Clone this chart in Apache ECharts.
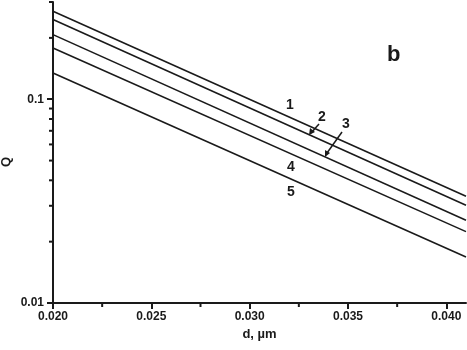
<!DOCTYPE html>
<html>
<head>
<meta charset="utf-8">
<script src="https://cdn.jsdelivr.net/npm/echarts@6/dist/echarts.min.js"></script>
<style>
  html, body { margin: 0; padding: 0; background: #fff; }
  #main { width: 467px; height: 350px; }
</style>
</head>
<body>
<div id="main"></div>
<script>
// x at both ends of the plotted range
var dValues = [0.020, 0.041];
// Q at d = 0.020 and d = 0.041
var curve1 = [0.270, 0.0334];
var curve2 = [0.246, 0.0302];
var curve3 = [0.2075, 0.0255];
var curve4 = [0.1785, 0.0224];
var curve5 = [0.1346, 0.0168];
var curveNames = ['1', '2', '3', '4', '5'];

var xTicks = [0.020, 0.025, 0.030, 0.035, 0.040];
var xMinorTicks = [0.0225, 0.0275, 0.0325, 0.0375];
var yTicks = [0.01, 0.1];
var yMinorTicks = [0.02, 0.03, 0.04, 0.05, 0.06, 0.07, 0.08, 0.09, 0.2, 0.3];

var ink = '#1a1a1a';
var fontFam = '"Liberation Sans", Arial, sans-serif';

var myChart = echarts.init(document.getElementById('main'));

function makeLine(name, vals) {
  return {
    name: name,
    type: 'line',
    showSymbol: false,
    silent: true,
    lineStyle: { color: ink, width: 1.6 },
    data: dValues.map(function (d, i) { return [d, vals[i]]; })
  };
}

// little ticks drawn outward from an axis
function tickSeries(data, dir) {
  return {
    type: 'custom',
    silent: true,
    clip: false,
    data: data,
    renderItem: function (params, api) {
      var p = api.coord([api.value(0), api.value(1)]);
      var x2 = dir === 'y' ? p[0] - 4 : p[0];
      var y2 = dir === 'y' ? p[1] : p[1] + 4;
      return {
        type: 'line',
        shape: { x1: p[0], y1: p[1], x2: x2, y2: y2 },
        style: { stroke: ink, lineWidth: 2 }
      };
    }
  };
}

var option = {
  animation: false,
  grid: { left: 53, right: 1, top: 2, bottom: 47, outerBoundsMode: 'none', containLabel: false },
  xAxis: {
    type: 'value',
    min: 0.02,
    max: 0.041,
    interval: 0.005,
    name: 'd, \u00b5m',
    nameLocation: 'middle',
    nameGap: 21,
    nameTextStyle: { color: ink, fontFamily: fontFam, fontWeight: 'bold', fontSize: 13 },
    axisLine: { lineStyle: { color: ink, width: 2 } },
    axisTick: { length: 6, lineStyle: { color: ink, width: 2 }, customValues: xTicks },
    axisLabel: {
      customValues: xTicks,
      margin: 8,
      color: ink, fontFamily: fontFam, fontWeight: 'bold', fontSize: 12,
      formatter: function (v) { return v.toFixed(3); }
    },
    splitLine: { show: false }
  },
  yAxis: {
    type: 'log',
    logBase: 10,
    min: 0.01,
    max: 0.3,
    axisLine: { show: true, lineStyle: { color: ink, width: 2 } },
    axisTick: { show: true, length: 6, lineStyle: { color: ink, width: 2 }, customValues: yTicks },
    axisLabel: {
      customValues: yTicks,
      margin: 9,
      color: ink, fontFamily: fontFam, fontWeight: 'bold', fontSize: 12,
      formatter: function (v) { return v >= 0.1 ? '0.1' : '0.01'; }
    },
    splitLine: { show: false }
  },
  series: [
    makeLine(curveNames[0], curve1),
    makeLine(curveNames[1], curve2),
    makeLine(curveNames[2], curve3),
    makeLine(curveNames[3], curve4),
    makeLine(curveNames[4], curve5),
    tickSeries(yMinorTicks.map(function (v) { return [0.02, v]; }), 'y'),
    tickSeries(xMinorTicks.map(function (v) { return [v, 0.01]; }), 'x')
  ],
  graphic: [
    { type: 'text', x: 6, y: 162, rotation: Math.PI / 2, style: { text: 'Q', fill: ink, font: 'bold 13px ' + fontFam, align: 'center', verticalAlign: 'middle' } },
    { type: 'text', left: 387, top: 44, style: { text: 'b', fill: ink, font: 'bold 22px ' + fontFam } },
    { type: 'text', x: 290, y: 105, style: { text: '1', fill: ink, font: 'bold 14px ' + fontFam, align: 'center', verticalAlign: 'middle' } },
    { type: 'text', x: 322, y: 117, style: { text: '2', fill: ink, font: 'bold 14px ' + fontFam, align: 'center', verticalAlign: 'middle' } },
    { type: 'text', x: 346, y: 124, style: { text: '3', fill: ink, font: 'bold 14px ' + fontFam, align: 'center', verticalAlign: 'middle' } },
    { type: 'text', x: 291, y: 167, style: { text: '4', fill: ink, font: 'bold 14px ' + fontFam, align: 'center', verticalAlign: 'middle' } },
    { type: 'text', x: 291, y: 192, style: { text: '5', fill: ink, font: 'bold 14px ' + fontFam, align: 'center', verticalAlign: 'middle' } },
    // arrow for curve 2
    { type: 'line', shape: { x1: 319, y1: 124, x2: 311, y2: 133 }, style: { stroke: ink, lineWidth: 1.5 } },
    { type: 'polygon', shape: { points: [[309, 135], [310, 128], [315, 132]] }, style: { fill: ink } },
    // arrow for curve 3
    { type: 'line', shape: { x1: 342, y1: 132, x2: 327, y2: 153 }, style: { stroke: ink, lineWidth: 1.5 } },
    { type: 'polygon', shape: { points: [[325, 157], [325, 150], [330, 153]] }, style: { fill: ink } }
  ]
};

myChart.setOption(option);
</script>
</body>
</html>
